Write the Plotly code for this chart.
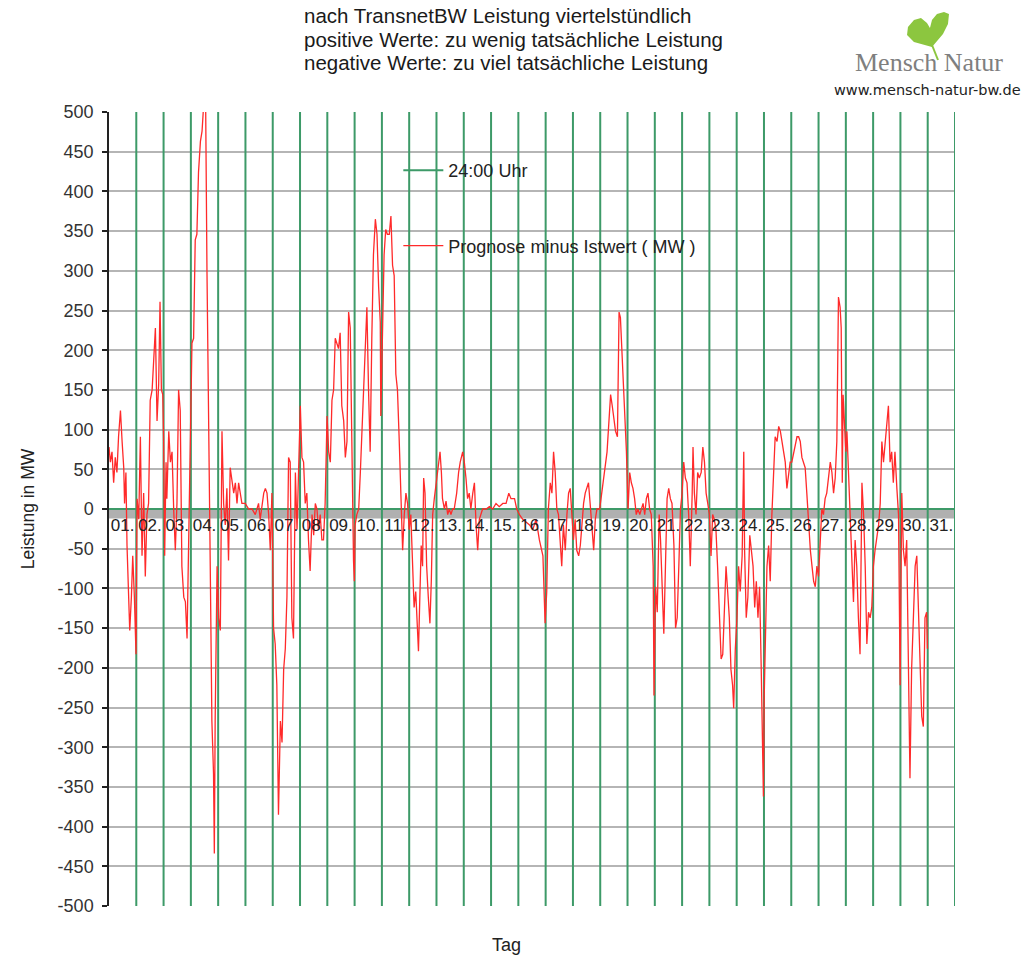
import plotly.graph_objects as go

# ---------------- data ----------------
day_labels = ["%02d." % d for d in range(1, 32)]
day_ends = list(range(1, 32))            # 24:00 markers (end of each day)
marker_span = [500, -500]                # green 24:00 marker reaches full scale
y_ticks = list(range(-500, 501, 50))
y_ticktext = [str(v) for v in y_ticks]

title_lines = [
    "nach TransnetBW Leistung viertelstündlich",
    "positive Werte: zu wenig tatsächliche Leistung",
    "negative Werte: zu viel tatsächliche Leistung",
]

# time in days since start of month, value in MW (Prognose minus Istwert)
t_days = [
    0.00, 0.05, 0.11, 0.17, 0.23, 0.29, 0.35, 0.42, 0.48, 0.54, 0.57, 0.62, 0.66, 0.72, 0.76, 0.82, 0.87, 0.93, 0.99,
    1.03, 1.09, 1.15, 1.21, 1.27, 1.33, 1.39, 1.45, 1.51, 1.58, 1.64, 1.70, 1.76, 1.82, 1.87, 1.92, 1.97,
    2.00, 2.04, 2.09, 2.12, 2.19, 2.25, 2.31, 2.37, 2.43, 2.49, 2.55, 2.61, 2.67, 2.74, 2.80, 2.86, 2.92, 2.98,
    3.04, 3.10, 3.16, 3.22, 3.28, 3.35, 3.41, 3.47, 3.53, 3.59, 3.65, 3.71, 3.77, 3.83, 3.86, 3.89, 3.96,
    4.02, 4.08, 4.14, 4.20, 4.26, 4.32, 4.38, 4.44, 4.51, 4.57, 4.63, 4.69, 4.75, 4.81, 4.87, 4.99,
    5.12, 5.24, 5.36, 5.48, 5.54, 5.67, 5.73, 5.79, 5.85, 5.91, 5.97,
    6.03, 6.09, 6.15, 6.21, 6.28, 6.34, 6.40, 6.46, 6.52, 6.58, 6.64, 6.70, 6.76, 6.83, 6.89, 6.95,
    7.01, 7.07, 7.13, 7.19, 7.25, 7.31, 7.37, 7.44, 7.50, 7.56, 7.62, 7.68, 7.74, 7.80, 7.86, 7.92, 7.99,
    8.05, 8.11, 8.17, 8.23, 8.29, 8.35, 8.41, 8.47, 8.53, 8.60, 8.66, 8.72, 8.78, 8.84, 8.90, 8.96, 8.99,
    9.02, 9.08, 9.15, 9.21, 9.27, 9.33, 9.39, 9.45, 9.51, 9.57, 9.63, 9.69, 9.76, 9.82, 9.88, 9.94, 9.96,
    10.02, 10.08, 10.14, 10.20, 10.27, 10.33, 10.39, 10.45, 10.51, 10.57, 10.63, 10.69, 10.76, 10.82, 10.88, 10.94,
    11.00, 11.06, 11.12, 11.18, 11.24, 11.31, 11.34, 11.39, 11.44, 11.49, 11.53, 11.58, 11.64, 11.70, 11.76, 11.81, 11.86, 11.92,
    12.00, 12.08, 12.13, 12.18, 12.22, 12.29, 12.35, 12.41, 12.47, 12.53, 12.59, 12.65, 12.74, 12.81, 12.87, 12.96,
    13.02, 13.08, 13.14, 13.20, 13.26, 13.33, 13.39, 13.45, 13.51, 13.57, 13.63, 13.69, 13.82, 13.94,
    14.06, 14.18, 14.30, 14.43, 14.55, 14.65, 14.73, 14.86, 14.94,
    15.04, 15.16, 15.28, 15.41, 15.53, 15.65, 15.77, 15.90, 15.98,
    16.04, 16.10, 16.17, 16.23, 16.29, 16.35, 16.41, 16.47, 16.53, 16.59, 16.65, 16.72, 16.78, 16.84, 16.90, 16.96,
    17.02, 17.08, 17.14, 17.21, 17.27, 17.33, 17.39, 17.45, 17.51, 17.57, 17.63, 17.70, 17.76, 17.82, 17.88, 17.98,
    18.08, 18.16, 18.25, 18.32, 18.38, 18.44, 18.50, 18.56, 18.63, 18.69, 18.74, 18.81, 18.89, 18.96,
    19.02, 19.08, 19.14, 19.20, 19.26, 19.32, 19.38, 19.45, 19.51, 19.57, 19.63, 19.69, 19.75, 19.81, 19.87, 19.94, 19.97,
    20.03, 20.09, 20.16, 20.21, 20.27, 20.33, 20.39, 20.45, 20.51, 20.57, 20.63, 20.70, 20.76, 20.82, 20.88, 20.94,
    21.00, 21.06, 21.12, 21.18, 21.24, 21.30, 21.37, 21.40, 21.45, 21.51, 21.57, 21.63, 21.70, 21.76, 21.82, 21.88, 21.94,
    22.00, 22.06, 22.12, 22.18, 22.24, 22.30, 22.37, 22.43, 22.49, 22.55, 22.61, 22.67, 22.73, 22.79, 22.85, 22.89, 22.95,
    23.01, 23.07, 23.13, 23.20, 23.26, 23.29, 23.35, 23.41, 23.48, 23.54, 23.60, 23.66, 23.72, 23.78, 23.84, 23.90, 23.94, 23.98,
    24.01, 24.06, 24.11, 24.17, 24.23, 24.29, 24.35, 24.41, 24.48, 24.54, 24.60, 24.66, 24.72, 24.78, 24.84, 24.90, 24.96,
    25.02, 25.09, 25.15, 25.21, 25.27, 25.33, 25.39, 25.45, 25.51, 25.57, 25.63, 25.70, 25.76, 25.82, 25.88, 25.94,
    26.00, 26.06, 26.12, 26.18, 26.24, 26.30, 26.37, 26.43, 26.49, 26.55, 26.61, 26.67, 26.73, 26.79, 26.83, 26.87, 26.90, 26.95,
    27.00, 27.04, 27.10, 27.16, 27.22, 27.28, 27.34, 27.40, 27.46, 27.52, 27.59, 27.65, 27.71, 27.77, 27.83, 27.89, 27.95,
    28.01, 28.07, 28.13, 28.20, 28.26, 28.32, 28.38, 28.44, 28.50, 28.56, 28.62, 28.68, 28.74, 28.80, 28.87, 28.93, 28.99,
    29.05, 29.11, 29.17, 29.23, 29.29, 29.35, 29.41, 29.48, 29.54, 29.60, 29.66, 29.72, 29.78, 29.84, 29.90, 29.96, 29.99,
]
diff_mw = [
    78, 59, 72, 33, 65, 46, 91, 124, 85, 52, 7, 46, -46, -104, -153, -111, -59, -111, -183,
    13, -13, 91, -59, 20, -85, -7, 7, 137, 150, 189, 228, 111, 157, 261, 150, 144,
    91, -59, 59, 13, 98, 59, 72, 0, -52, 7, 150, 124, -72, -111, -117, -163, -46, 98,
    209, 215, 339, 346, 424, 463, 476, 510, 560, 300, 59, -72, -267, -333, -434, -267, -72,
    -137, -153, 98, 7, -20, 26, -65, 52, 33, 20, 33, 7, 33, 20, 7, 7,
    0, 0, -7, 7, -13, 20, 26, 20, -7, -52, 20,
    -150, -170, -222, -385, -267, -294, -202, -176, -111, 65, 59, -137, -163, 46, -26, 52,
    130, 65, 59, 7, 20, -39, -78, -7, -33, 7, 0, -26, -7, -39, -39, 7, 117,
    72, 59, 137, 150, 215, 209, 202, 222, 130, 111, 65, 85, 248, 228, 59, -65, -91,
    -20, -7, 0, 46, 104, 150, 202, 254, 150, 72, 215, 320, 365, 346, 280, 235, 117,
    241, 320, 352, 346, 346, 369, 307, 294, 170, 150, 91, 13, -52, -7, 20, 7,
    -26, -7, -72, -124, -104, -170, -179, -111, -46, -72, 39, 20, -72, -111, -144, -91, -7, 13,
    33, 59, 72, 46, 13, 0, 10, -7, 0, -7, 0, 0, 20, 46, 59, 72,
    59, 39, 13, 20, 0, 20, 33, -20, -52, -13, -7, 0, 0, 3,
    0, 7, 3, 7, 7, 20, 13, 13, 0,
    -7, -13, -16, -20, -26, -13, -39, -59, -144,
    -104, 0, 33, 20, 72, 46, 0, -7, -46, -72, -20, -52, -7, 20, 26, -7,
    -39, -13, -52, -59, -46, -20, 7, 20, 26, 33, 7, -33, -52, -13, 0, 0,
    26, 52, 72, 111, 144, 130, 111, 98, 91, 248, 241, 189, 137, 72,
    0, 46, 33, 26, 13, -7, 0, -7, 0, 7, -7, 13, 20, 0, -7, -72, -235,
    -98, -130, -7, -39, -104, -157, -72, 13, 26, 13, 7, -46, -150, -137, -72, 0,
    20, 59, 39, 33, -7, -72, 20, 78, 20, -7, 46, 39, 46, 78, 59, 20, 7,
    -7, -59, -7, -13, -26, -72, -137, -189, -183, -137, -72, -104, -137, -202, -222, -251, -176,
    -137, -72, -104, -59, 72, -52, -137, -111, -33, -52, -72, -124, -91, -137, -98, -202, -300, -362,
    -235, -157, -72, -46, -91, -7, 46, 91, 85, 104, 98, 85, 72, 59, 26, 46, 59,
    59, 72, 85, 91, 91, 85, 65, 59, 52, 20, -20, -52, -72, -91, -98, -72,
    -85, -39, 0, -7, 13, 20, 46, 59, 46, 20, 39, 85, 267, 254, 228, 33, 144, 111,
    72, 98, 46, -7, -59, -117, -39, -72, -137, -183, 33, -7, -72, -170, -130, -137, -124,
    -72, -52, -39, -20, 7, 85, 59, 85, 111, 130, 59, 72, 33, 72, 26, -7, -222,
    20, -52, -72, -39, -202, -339, -202, -137, -72, -59, -137, -209, -261, -274, -137, -130, -176,
]

# ---------------- figure ----------------
FONT = "Liberation Sans, Arial, sans-serif"
GREEN = "#3d9a68"
RED = "#ff2a2a"

# 24:00 marker series: runs along zero and spikes over the full scale at every midnight
mx, my = [0], [0]
for d in day_ends:
    mx += [d, d, d, d]
    my += [0, marker_span[0], marker_span[1], 0]

fig = go.Figure()
fig.add_trace(go.Scatter(
    x=mx, y=my, mode="lines", name="24:00 Uhr", legendgroup="a",
    line=dict(color=GREEN, width=2), hoverinfo="skip"))
fig.add_trace(go.Scatter(
    x=t_days, y=diff_mw, mode="lines", name="Prognose minus Istwert ( MW )", legendgroup="b",
    line=dict(color=RED, width=1.3)))

W, H = 1032, 958
L, R, T, B = 109, 77, 112, 52
PW, PH = W - L - R, H - T - B


def px(xp, yp):
    """pixel -> paper coordinates (for decoration only)"""
    return (xp - L) / PW, (H - B - yp) / PH


# ginkgo leaf (logo)
leaf_pts = [(932, 47), (914, 42), (907, 35), (908, 27), (914, 20), (921, 18), (927, 23), (930, 28),
            (932, 20), (937, 14), (944, 12), (949, 14), (948, 24), (943, 34)]
path = "M " + " L ".join("%.4f,%.4f" % px(a, b) for a, b in leaf_pts) + " Z"
s0, s1 = px(932, 45), px(938, 60)

annotations = []
for i, line in enumerate(title_lines):
    annotations.append(dict(
        text=line, xref="paper", yref="paper", x=px(302, 0)[0], y=px(0, 16 + 23.5 * i)[1],
        xanchor="left", yanchor="middle", align="left", showarrow=False,
        font=dict(size=20.5, color="#1a1a1a", family=FONT)))
annotations += [
    dict(text="Tag", xref="paper", yref="paper", x=px(506, 0)[0], y=px(0, 945)[1],
         xanchor="center", yanchor="middle", showarrow=False,
         font=dict(size=18, color="#222", family=FONT)),
    dict(text="Mensch Natur", xref="paper", yref="paper", x=px(929, 0)[0], y=px(0, 63)[1],
         xanchor="center", yanchor="middle", showarrow=False,
         font=dict(size=26, color="#7f7f7f", family="Liberation Serif, serif")),
    dict(text="www.mensch-natur-bw.de", xref="paper", yref="paper", x=px(927, 0)[0], y=px(0, 90)[1],
         xanchor="center", yanchor="middle", showarrow=False,
         font=dict(size=14.5, color="#222", family="DejaVu Sans, sans-serif")),
]

fig.update_layout(
    width=W, height=H,
    margin=dict(l=L, r=R, t=T, b=B, autoexpand=False),
    paper_bgcolor="white", plot_bgcolor="white",
    font=dict(family=FONT, color="#222"),
    showlegend=True,
    legend=dict(x=0.342, y=0.9496, xanchor="left", yanchor="top",
                bgcolor="rgba(0,0,0,0)", font=dict(size=18, color="#222", family=FONT),
                tracegroupgap=49, itemwidth=40, traceorder="grouped"),
    xaxis=dict(range=[0, 31], anchor="free", position=0.5,
               tickmode="array", tickvals=[d - 0.5 for d in day_ends], ticktext=day_labels,
               ticks="outside", ticklen=1, tickcolor="rgba(0,0,0,0)",
               tickfont=dict(size=17, color="#222", family=FONT),
               showgrid=False, zeroline=False, showline=False, fixedrange=True),
    yaxis=dict(range=[-500, 500], tickmode="array", tickvals=y_ticks, ticktext=y_ticktext,
               showline=True, linecolor="#222", linewidth=1.5,
               ticks="outside", ticklen=5, tickcolor="#222", tickwidth=1.5,
               ticklabelstandoff=5,
               tickfont=dict(size=18, color="#333", family=FONT),
               showgrid=True, gridcolor="#b5b5b5", gridwidth=1.5, zeroline=False,
               title=dict(text="Leistung in MW", font=dict(size=17.5, color="#222", family=FONT),
                          standoff=18)),
    shapes=[
        dict(type="rect", xref="x", yref="y", x0=0, x1=31, y0=-12, y1=0,
             fillcolor="#b0b0b0", line=dict(width=0), layer="below"),
        dict(type="path", xref="paper", yref="paper", path=path,
             fillcolor="#8cc63f", line=dict(width=0)),
        dict(type="line", xref="paper", yref="paper", x0=s0[0], y0=s0[1], x1=s1[0], y1=s1[1],
             line=dict(color="#8cc63f", width=2)),
    ],
    annotations=annotations,
)

fig.write_html("out.html", config={"displayModeBar": False},
               post_script="document.body.style.margin='0px';")
